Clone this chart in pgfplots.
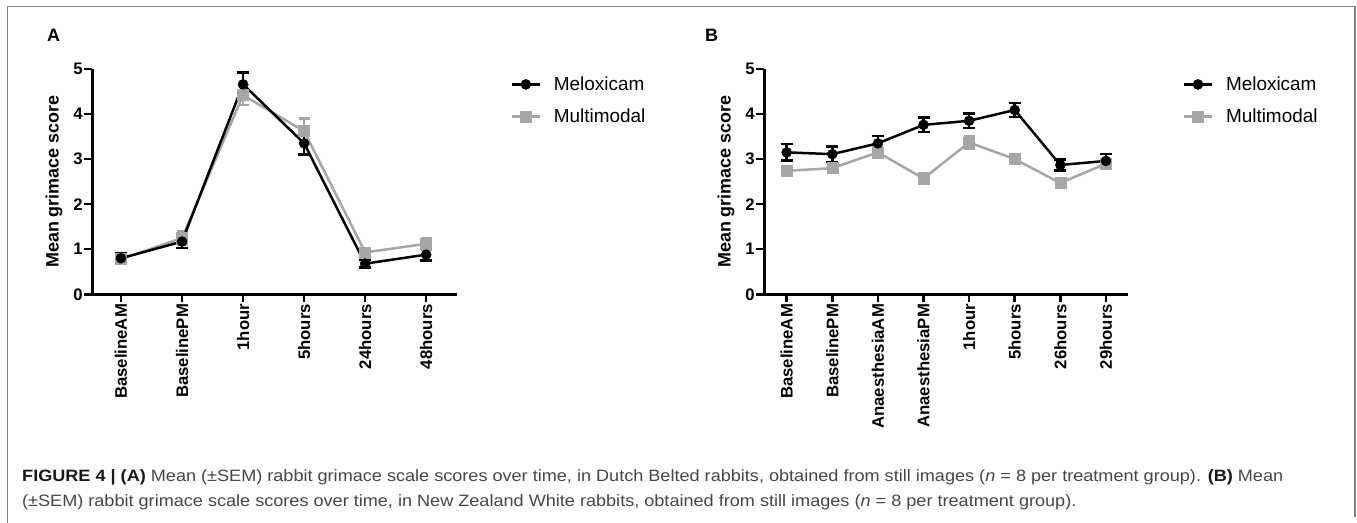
\documentclass[border=0pt]{standalone}
\usepackage{pgfplots}
\pgfplotsset{compat=1.18}
\usepackage{fontspec}
\setmainfont{Liberation Sans}
\usepackage{graphicx}
\definecolor{mgray}{RGB}{166,166,166}
\definecolor{framegray}{RGB}{130,130,130}
\definecolor{captext}{RGB}{70,70,70}

\pgfplotsset{
  prism/.style={
    scale only axis, anchor=south west, height=225.3bp,
    ymin=0, ymax=5, ytick={0,1,2,3,4,5},
    axis x line*=bottom, axis y line*=left,
    axis line style={line width=2.5bp, black},
    tick align=outside, major tick length=8bp,
    tick style={line width=2.5bp, black},
    ticklabel style={font=\bfseries\fontsize{16.8}{18}\selectfont},
    /pgf/number format/assume math mode=true,
    xticklabel style={rotate=90, anchor=east, inner sep=1.5bp},
    yticklabel style={inner sep=1.5bp},
    ylabel={Mean grimace score},
    ylabel style={font=\bfseries\fontsize{18}{20}\selectfont, at={(rel axis cs:-0.105,0.5)}, anchor=center},
    clip=false,
    legend style={draw=none, fill=none, anchor=west, inner sep=0pt, row sep=17bp, column sep=13bp,
      font=\fontsize{19}{22}\selectfont, nodes={inner sep=0pt}},
    legend cell align=left, reverse legend,
    legend image code/.code={\draw[mark repeat=2,mark phase=2,##1] plot coordinates {(0bp,0bp) (13.8bp,0bp) (27.6bp,0bp)};},
  },
  multi/.style={mgray, line width=2.5bp, mark=square*, mark size=5.5bp,
    mark options={solid, fill=mgray, draw=mgray, line width=0.5bp},
    error bars/.cd, y dir=both, y explicit,
    error bar style={line width=2.5bp, mgray},
    error mark options={rotate=90, line width=2.5bp, mark size=5.5bp, mgray}},
  melo/.style={black, line width=2.5bp, mark=*, mark size=5bp,
    mark options={solid, fill=black, draw=black, line width=0.5bp},
    error bars/.cd, y dir=both, y explicit,
    error bar style={line width=2.5bp, black},
    error mark options={rotate=90, line width=2.5bp, mark size=6bp, black}},
}

\pgfplotstableread{
x y e
0 0.80 0.10
1 1.17 0.14
2 4.66 0.26
3 3.35 0.25
4 0.68 0.09
5 0.88 0.13
}\meloA
\pgfplotstableread{
x y e
0 0.78 0.09
1 1.25 0.15
2 4.42 0.22
3 3.62 0.28
4 0.93 0.10
5 1.12 0.13
}\multiA
\pgfplotstableread{
x y e
0 3.15 0.18
1 3.11 0.17
2 3.35 0.16
3 3.76 0.16
4 3.85 0.16
5 4.09 0.15
6 2.87 0.12
7 2.96 0.15
}\meloB
\pgfplotstableread{
x y e
0 2.74 0.10
1 2.80 0.10
2 3.15 0.12
3 2.57 0.11
4 3.37 0.13
5 3.00 0.10
6 2.47 0.10
7 2.90 0.08
}\multiB

\newlength\capw
\def\capfont{\fontsize{16.5}{20}\selectfont}
\def\capone{{\color{black!90}\bfseries FIGURE 4 | (A)} Mean (±SEM) rabbit grimace scale scores over time, in Dutch Belted rabbits, obtained from still images (\textit{n} = 8 per treatment group). {\color{black!90}\bfseries (B)} Mean}
\def\captwo{(±SEM) rabbit grimace scale scores over time, in New Zealand White rabbits, obtained from still images (\textit{n} = 8 per treatment group).}
\begin{document}
\settowidth\capw{\capfont\capone}%
\pgfmathsetmacro\capf{1265.7/(\capw)}%
\begin{tikzpicture}
\path[use as bounding box] (0,0) rectangle (1357bp,523bp);
% frame
\draw[framegray, line width=1.3bp] (7.3bp,0bp) -- (7.3bp,516.3bp) -- (1355bp,516.3bp) -- (1355bp,6bp);
% panel letters
\node[anchor=west, inner sep=0pt, font=\bfseries\fontsize{18}{20}\selectfont] at (47bp,488bp) {A};
\node[anchor=west, inner sep=0pt, font=\bfseries\fontsize{18}{20}\selectfont] at (705bp,488bp) {B};

\begin{axis}[prism, at={(92.3bp,228.7bp)}, width=364.4bp,
  xmin=-0.47, xmax=5.5,
  xtick={0,1,2,3,4,5},
  xticklabels={BaselineAM,BaselinePM,1hour,5hours,24hours,48hours},
  legend style={at={(rel axis cs:1.148,0.860)}}]
\addplot[multi] table[x=x,y=y,y error=e] {\multiA};
\addlegendentry{Multimodal}
\addplot[melo] table[x=x,y=y,y error=e] {\meloA};
\addlegendentry{Meloxicam}
\end{axis}

\begin{axis}[prism, at={(764.3bp,228.7bp)}, width=364bp,
  xmin=-0.49, xmax=7.49,
  xtick={0,1,2,3,4,5,6,7},
  xticklabels={BaselineAM,BaselinePM,AnaesthesiaAM,AnaesthesiaPM,1hour,5hours,26hours,29hours},
  legend style={at={(rel axis cs:1.1495,0.860)}}]
\addplot[multi] table[x=x,y=y,y error=e] {\multiB};
\addlegendentry{Multimodal}
\addplot[melo] table[x=x,y=y,y error=e] {\meloB};
\addlegendentry{Meloxicam}
\end{axis}

% caption
\node[anchor=west, inner sep=0pt, text=captext, font=\capfont] at (22bp,46bp) {\scalebox{\capf}[1]{\capone}};
\node[anchor=west, inner sep=0pt, text=captext, font=\capfont] at (22bp,21bp) {\scalebox{\capf}[1]{\captwo}};
\end{tikzpicture}
\end{document}
